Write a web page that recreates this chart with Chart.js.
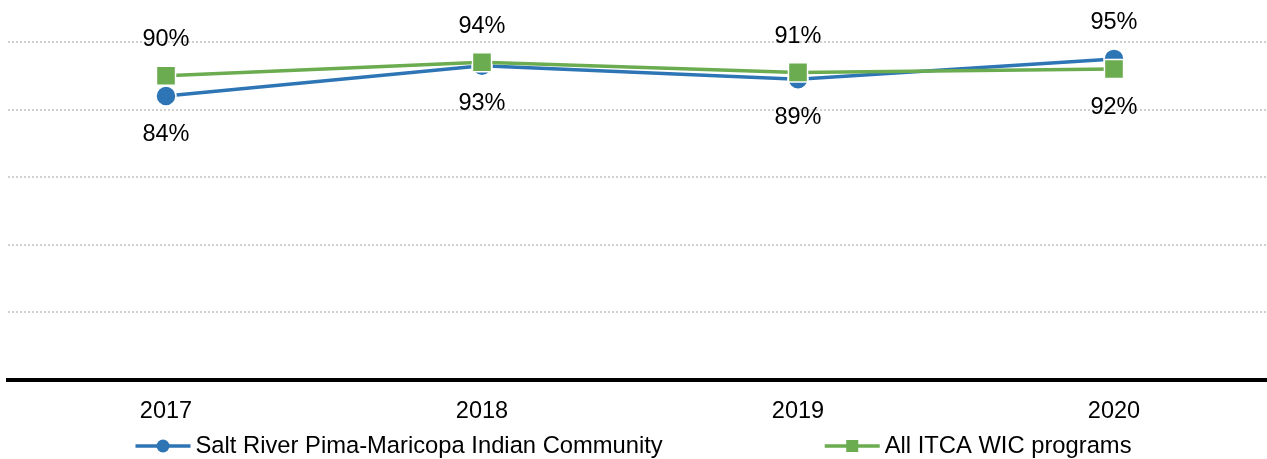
<!DOCTYPE html>
<html>
<head>
<meta charset="utf-8">
<script src="https://cdn.jsdelivr.net/npm/chart.js@4/dist/chart.umd.min.js"></script>
<style>
  html, body { margin: 0; padding: 0; background: #fff; overflow: hidden; }
  #wrap { width: 1272px; height: 459px; position: relative; }
</style>
</head>
<body>
<div id="wrap"><canvas id="chart"></canvas></div>
<script>
// data
const years = ['2017', '2018', '2019', '2020'];
const saltRiver = [84, 93, 89, 95];
const allItca = [90, 94, 91, 92];
const seriesNames = ['Salt River Pima-Maricopa Indian Community', 'All ITCA WIC programs'];
const yTicks = [0, 20, 40, 60, 80, 100];

const BLUE = '#2E75B6';
const GREEN = '#6AAC4F';
const FONT = '"Liberation Sans", Arial, sans-serif';
const VIEW_W = 1267; // visible page width, the canvas runs a little past it

// value labels: higher value above the point, lower one below
const valueLabels = {
    id: 'valueLabels',
    afterDatasetsDraw(chart) {
        const ctx = chart.ctx;
        ctx.save();
        ctx.font = '23.5px ' + FONT;
        ctx.fillStyle = '#000';
        ctx.textAlign = 'center';
        ctx.textBaseline = 'middle';
        chart.data.datasets.forEach((ds, di) => {
            const meta = chart.getDatasetMeta(di);
            meta.data.forEach((pt, i) => {
                const others = chart.data.datasets.map(d => d.data[i]);
                const isTop = ds.data[i] >= Math.max(...others);
                const y = isTop ? pt.y - 36 : pt.y + 38;
                ctx.fillText(ds.data[i] + '%', pt.x, y);
            });
        });
        ctx.restore();
    }
};

// legend with line + marker, centred at the bottom
const bottomLegend = {
    id: 'bottomLegend',
    afterDraw(chart) {
        const ctx = chart.ctx;
        ctx.save();
        ctx.font = '23.75px ' + FONT;
        ctx.textBaseline = 'middle';
        const lineLen = 55, textGap = 5, itemGap = 162, y = 446;
        const items = chart.data.datasets.map(ds => ({
            ds, w: lineLen + textGap + ctx.measureText(ds.label).width
        }));
        const total = items.reduce((a, it) => a + it.w, 0) + itemGap * (items.length - 1);
        let x = (VIEW_W - total) / 2;
        items.forEach(it => {
            const c = it.ds.borderColor;
            ctx.strokeStyle = c;
            ctx.lineWidth = 3.5;
            ctx.beginPath();
            ctx.moveTo(x, y);
            ctx.lineTo(x + lineLen, y);
            ctx.stroke();
            ctx.fillStyle = c;
            const cx = x + lineLen / 2;
            if (it.ds.pointStyle === 'rect') {
                ctx.fillRect(cx - 6, y - 6, 12, 12);
            } else {
                ctx.beginPath();
                ctx.arc(cx, y, 6.5, 0, Math.PI * 2);
                ctx.fill();
            }
            ctx.fillStyle = '#000';
            ctx.textAlign = 'left';
            ctx.fillText(it.ds.label, x + lineLen + textGap, y);
            x += it.w + itemGap;
        });
        ctx.restore();
    }
};

new Chart(document.getElementById('chart'), {
    type: 'line',
    data: {
        labels: years,
        datasets: [
            {
                label: seriesNames[0],
                data: saltRiver,
                borderColor: BLUE,
                backgroundColor: BLUE,
                borderWidth: 3.5,
                pointStyle: 'circle',
                pointRadius: 10,
                pointBorderColor: '#fff',
                pointBorderWidth: 1.5,
                pointBackgroundColor: BLUE,
                order: 1
            },
            {
                label: seriesNames[1],
                data: allItca,
                borderColor: GREEN,
                backgroundColor: GREEN,
                borderWidth: 3.5,
                pointStyle: 'rect',
                pointRadius: 13.5,
                pointBorderColor: '#fff',
                pointBorderWidth: 1.5,
                pointBackgroundColor: GREEN,
                order: 0
            }
        ]
    },
    options: {
        responsive: true,
        maintainAspectRatio: false,
        animation: false,
        layout: { autoPadding: false, padding: { top: 42, left: 8, right: 0, bottom: 0 } },
        plugins: {
            legend: { display: false },
            tooltip: { enabled: false }
        },
        scales: {
            x: {
                offset: true,
                grid: { display: false, drawTicks: false },
                border: { display: true, color: '#000', width: 4 },
                ticks: {
                    color: '#000',
                    padding: 17,
                    font: { size: 23.5, family: FONT }
                },
                afterFit(scale) {
                    scale.height = 79;
                    scale.paddingLeft = 0;
                    scale.paddingRight = 0;
                }
            },
            y: {
                min: 0,
                max: 100,
                afterBuildTicks(scale) { scale.ticks = yTicks.map(v => ({ value: v })); },
                ticks: { display: false },
                grid: { color: '#d0d0d0', lineWidth: 2, drawTicks: false },
                border: { display: false, dash: [2, 2] },
                afterFit(scale) {
                    scale.width = 0;
                    scale.paddingTop = 0;
                    scale.paddingBottom = 0;
                }
            }
        }
    },
    plugins: [valueLabels, bottomLegend]
});
</script>
</body>
</html>
